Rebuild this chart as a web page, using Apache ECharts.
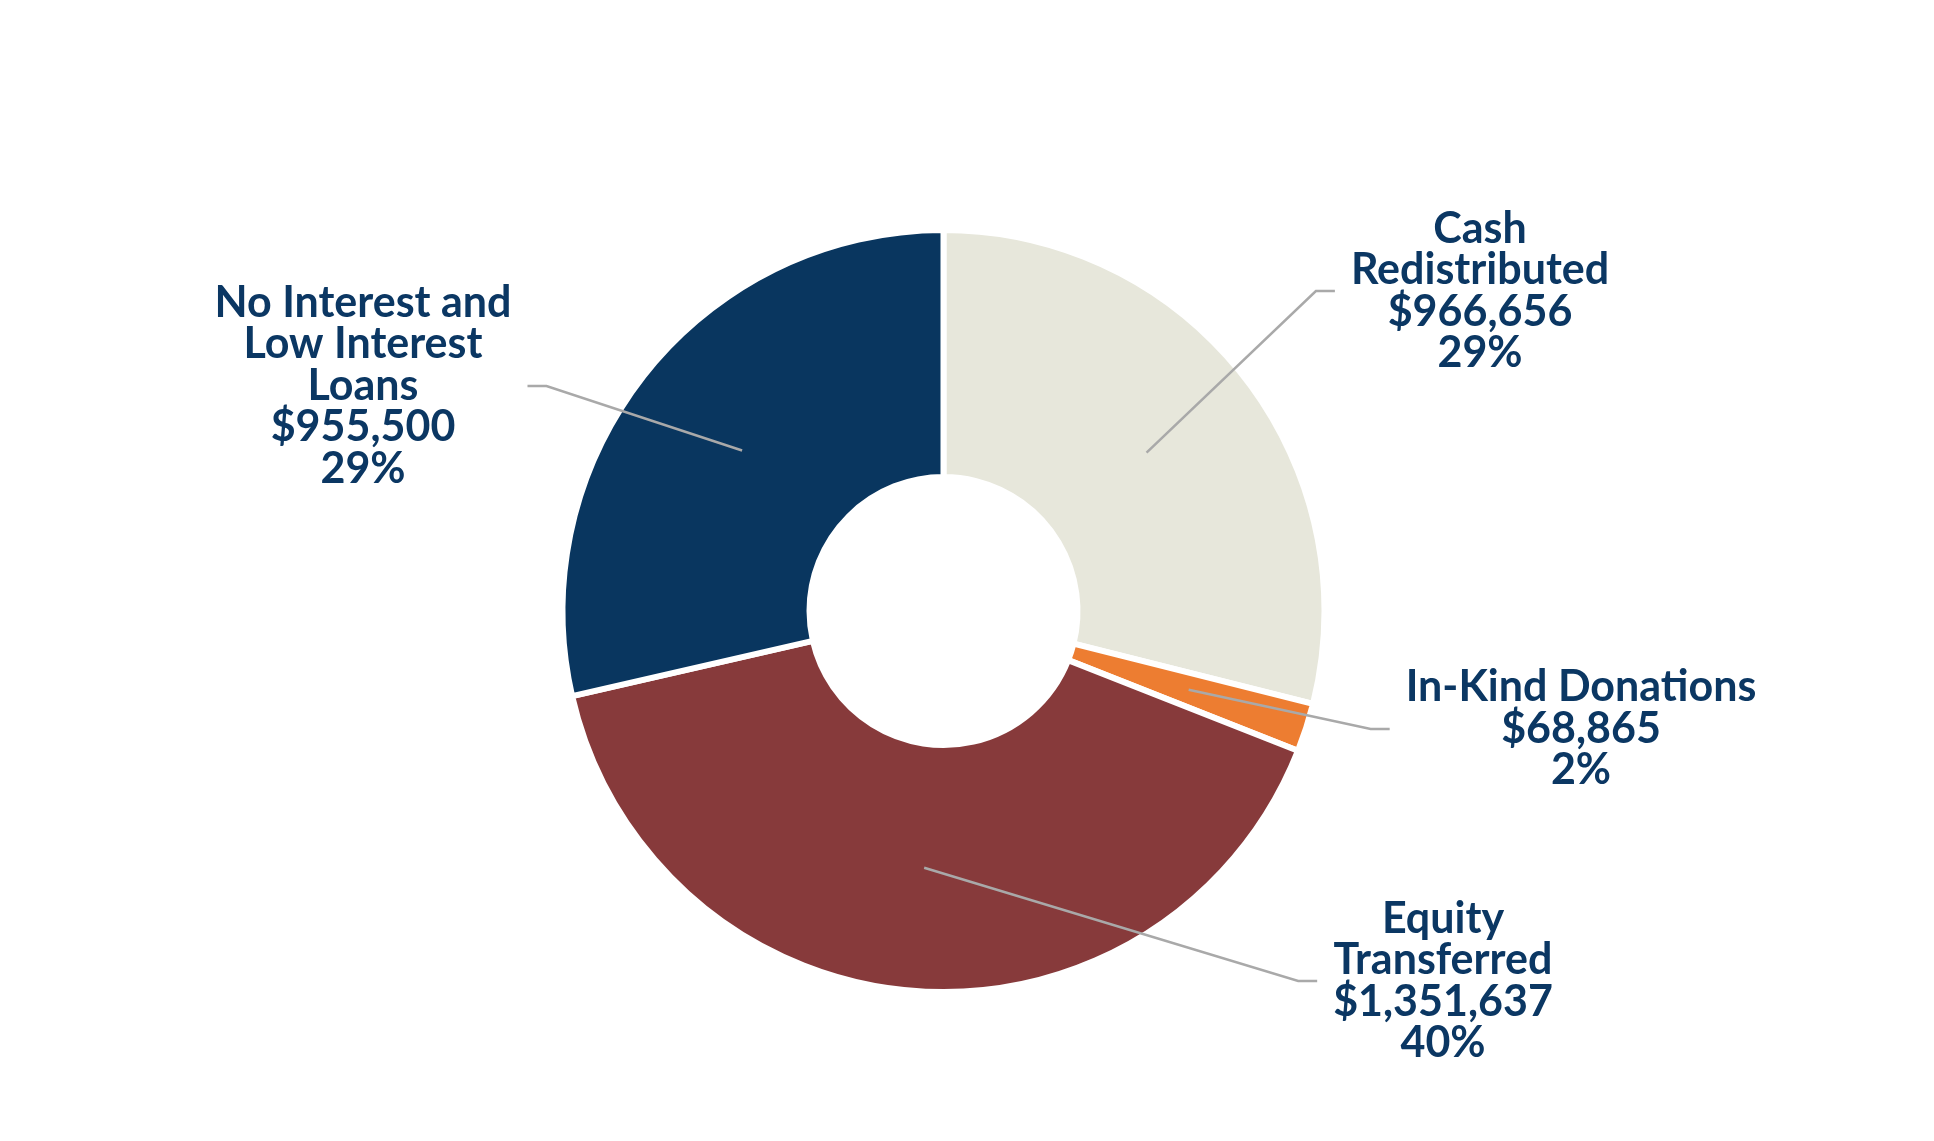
<!DOCTYPE html>
<html>
<head>
<meta charset="utf-8">
<style>
  html, body { margin: 0; padding: 0; background: #ffffff; }
  #chart { width: 1934px; height: 1141px; }
</style>
<script src="https://cdn.jsdelivr.net/npm/echarts@6/dist/echarts.min.js"></script>
</head>
<body>
<div id="chart"></div>
<script>
/* Donut of resources moved, with Excel-style elbow leaders. */

const categories = ["Cash Redistributed", "In-Kind Donations", "Equity Transferred", "No Interest and Low Interest Loans"];
const labelNames = ["Cash\nRedistributed", "In-Kind Donations", "Equity\nTransferred", "No Interest and\nLow Interest\nLoans"];
const values = [966656, 68865, 1351637, 955500];
const colors = ["#E7E7DB", "#ED7D31", "#873A3B", "#09365F"];

// label block centres (px) — layout, not data
const LABEL_AT = [[1480, 291], [1581, 729], [1443, 981], [363, 386]];
const CENTER = [943.5, 611];

const INK = "#0B3763";
const LEADER = "#A9A9A9";

const chart = echarts.init(document.getElementById("chart"), null, { renderer: "canvas" });

const fmtMoney = (v) => "$" + v.toLocaleString("en-US");

chart.setOption({
  animation: false,
  backgroundColor: "#ffffff",
  series: [
    {
      type: "pie",
      center: CENTER,
      radius: [134, 381],
      startAngle: 90,
      clockwise: true,
      silent: true,
      label: { show: false },
      labelLine: { show: false },
      itemStyle: { borderColor: "#ffffff", borderWidth: 6 },
      data: categories.map((name, i) => ({ name, value: values[i], itemStyle: { color: colors[i] } })),
    },
    {
      // invisible twin, its outer edge at the middle of the ring, carries the labels
      type: "pie",
      z: 5,
      center: CENTER,
      radius: [0, 257.5],
      startAngle: 90,
      clockwise: true,
      silent: true,
      avoidLabelOverlap: false,
      itemStyle: { color: "rgba(0,0,0,0)" },
      label: {
        show: true,
        position: "outside",
        color: INK,
        fontFamily: "Lato",
        fontWeight: "bold",
        fontSize: 43,
        lineHeight: 41.5,
        formatter: (p) => labelNames[p.dataIndex] + "\n" + fmtMoney(p.value) + "\n" + Math.round(p.percent) + "%",
      },
      labelLine: { show: true, smooth: false, lineStyle: { color: LEADER, width: 2.5 } },
      labelLayout: (p) => {
        const c = LABEL_AT[p.dataIndex];
        const right = c[0] > CENTER[0];
        const half = p.labelRect.width / 2;
        const end = [right ? c[0] - half - 16 : c[0] + half + 16, c[1]];
        const elbow = [right ? end[0] - 19 : end[0] + 19, c[1]];
        const start = p.labelLinePoints ? p.labelLinePoints[0] : elbow;
        return { x: c[0], y: c[1], align: "center", verticalAlign: "middle", labelLinePoints: [start, elbow, end] };
      },
      data: categories.map((name, i) => ({ name, value: values[i] })),
    },
  ],
});
</script>
</body>
</html>
